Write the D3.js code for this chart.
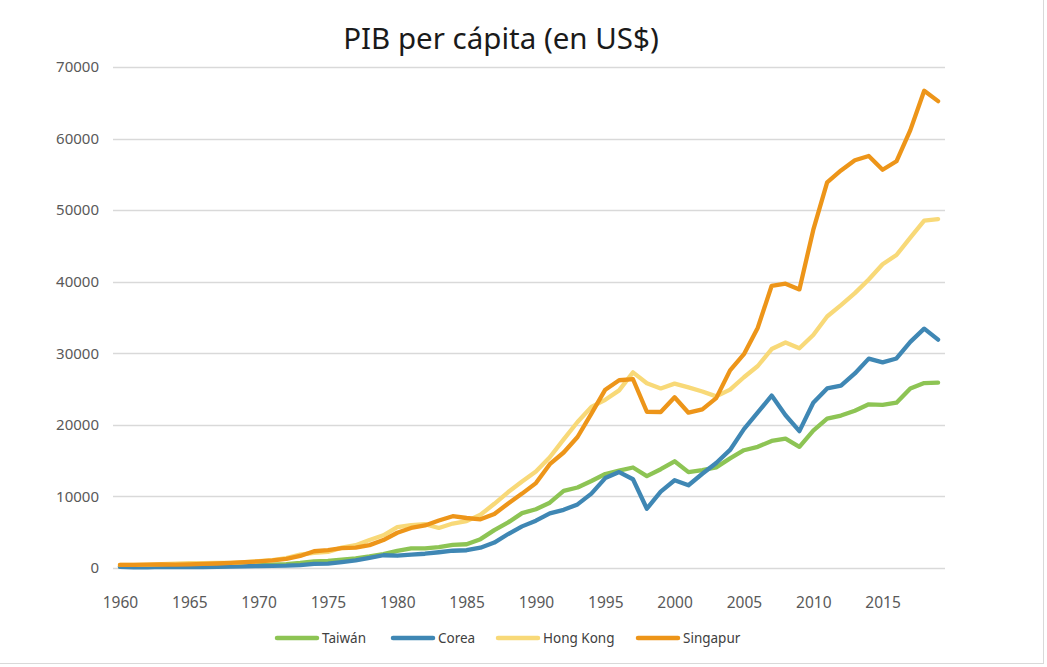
<!DOCTYPE html>
<html>
<head>
<meta charset="utf-8">
<script src="https://cdn.jsdelivr.net/npm/d3@7"></script>
<style>
  html, body { margin: 0; padding: 0; background: #fff; }
  svg { display: block; }
</style>
</head>
<body>
<svg id="chart" width="1047" height="667"></svg>
<script>
const years = d3.range(1960, 2020);
const xTickLabels = ["1960","1965","1970","1975","1980","1985","1990","1995","2000","2005","2010","2015"];
const yTickValues = [0,10000,20000,30000,40000,50000,60000,70000];
const seriesNames = ["Taiwán","Corea","Hong Kong","Singapur"];
const seriesColors = ["#8dc454","#3f87b4","#f8d978","#ed9519"];

const taiwan = [164,151,162,179,202,217,237,268,305,345,393,451,528,702,937,982,1164,1348,1613,1947,2389,2730,2734,2906,3224,3316,4030,5298,6379,7669,8205,9124,10768,11245,12160,13129,13600,14040,12840,13804,14908,13397,13686,14066,15317,16456,16934,17757,18081,16933,19197,20866,21295,21973,22874,22780,23091,25080,25838,25908];
const corea = [158,94,106,146,124,109,133,161,198,243,279,301,324,406,563,617,834,1055,1405,1783,1715,1883,1993,2199,2413,2482,2835,3555,4749,5817,6610,7637,8127,8885,10385,12565,13403,12398,8282,10672,12257,11561,13165,14673,16496,19403,21743,24086,21345,19122,23087,25096,25467,27178,29253,28737,29274,31601,33447,31902];
const hongKong = [429,441,485,554,604,677,693,710,718,826,960,1106,1383,1874,2099,2252,2843,3191,3923,4569,5700,5991,6134,5595,6208,6543,7435,8972,10610,12097,13486,15466,17976,20396,22503,23497,24818,27330,25809,25092,25757,25230,24666,23977,24928,26650,28224,30594,31516,30697,32550,35142,36731,38404,40315,42432,43731,46166,48538,48756];
const singapur = [428,449,472,511,485,517,567,626,708,813,925,1071,1264,1685,2341,2490,2770,2846,3194,3901,4928,5596,5941,6634,7234,6986,6800,7539,9018,10394,11862,14502,16136,18302,21578,24915,26233,26376,21829,21796,23853,21700,22160,23730,27609,29870,33580,39433,39722,38927,47237,53891,55546,56967,57563,55647,56828,61176,66679,65233];

const seriesData = [taiwan, corea, hongKong, singapur];

const svg = d3.select("#chart");
const font = "'Noto Sans', 'Open Sans', sans-serif";

// frame
svg.append("line").attr("x1",1043.5).attr("x2",1043.5).attr("y1",0).attr("y2",663).attr("stroke","#d9d9d9");
svg.append("line").attr("x1",0).attr("x2",1044).attr("y1",663.5).attr("y2",663.5).attr("stroke","#d9d9d9");

const plotLeft = 113, plotRight = 945, plotTop = 67, plotBottom = 568;

const x = d3.scalePoint().domain(years).range([plotLeft, plotRight]).padding(0.5);
const y = d3.scaleLinear().domain([0, 70000]).range([plotBottom, plotTop]);

// gridlines
svg.append("g").selectAll("line").data(yTickValues).join("line")
  .attr("x1", plotLeft).attr("x2", plotRight)
  .attr("y1", d => Math.round(y(d)) + 0.5).attr("y2", d => Math.round(y(d)) + 0.5)
  .attr("stroke", "#d9d9d9").attr("stroke-width", 1.3);

// y axis labels
const yAxis = d3.axisLeft(y).tickValues(yTickValues).tickSize(0).tickPadding(0).tickFormat(d3.format("d"));
const gy = svg.append("g").attr("transform", `translate(99,0)`).call(yAxis);
gy.select(".domain").remove();
gy.selectAll("text").attr("fill", "#595959").style("font-family", font).style("font-size", "15px");

// x axis labels
const xAxis = d3.axisBottom(x).tickValues(xTickLabels.map(Number)).tickSize(0).tickPadding(0).tickFormat((d,i) => xTickLabels[i]);
const gx = svg.append("g").attr("transform", `translate(0,597)`).call(xAxis);
gx.select(".domain").remove();
gx.selectAll("text").attr("fill", "#595959").style("font-family", font).style("font-size", "15.5px");

// lines
const line = d3.line().x((d,i) => x(years[i])).y(d => y(d)).curve(d3.curveLinear);
svg.append("g").selectAll("path").data(seriesData).join("path")
  .attr("d", d => line(d))
  .attr("fill", "none")
  .attr("stroke", (d,i) => seriesColors[i])
  .attr("stroke-width", 4.3)
  .attr("stroke-linejoin", "round")
  .attr("stroke-linecap", "round");

// title
svg.append("text").attr("x", 501).attr("y", 49).attr("text-anchor", "middle")
  .style("font-family", font).style("font-size", "29.5px").attr("fill", "#1a1a1a")
  .text("PIB per cápita (en US$)");

// legend
const legendX = [277, 393, 498, 638];
const lg = svg.append("g").selectAll("g").data(seriesNames).join("g")
  .attr("transform", (d,i) => `translate(${legendX[i]},638)`);
lg.append("line").attr("x1", 0).attr("x2", 40).attr("y1", 0).attr("y2", 0)
  .attr("stroke", (d,i) => seriesColors[i]).attr("stroke-width", 4.5).attr("stroke-linecap", "round");
lg.append("text").attr("x", 45).attr("y", 0).attr("dy", "0.35em")
  .style("font-family", font).style("font-size", "13.5px").attr("fill", "#404040")
  .text(d => d);
</script>
</body>
</html>
